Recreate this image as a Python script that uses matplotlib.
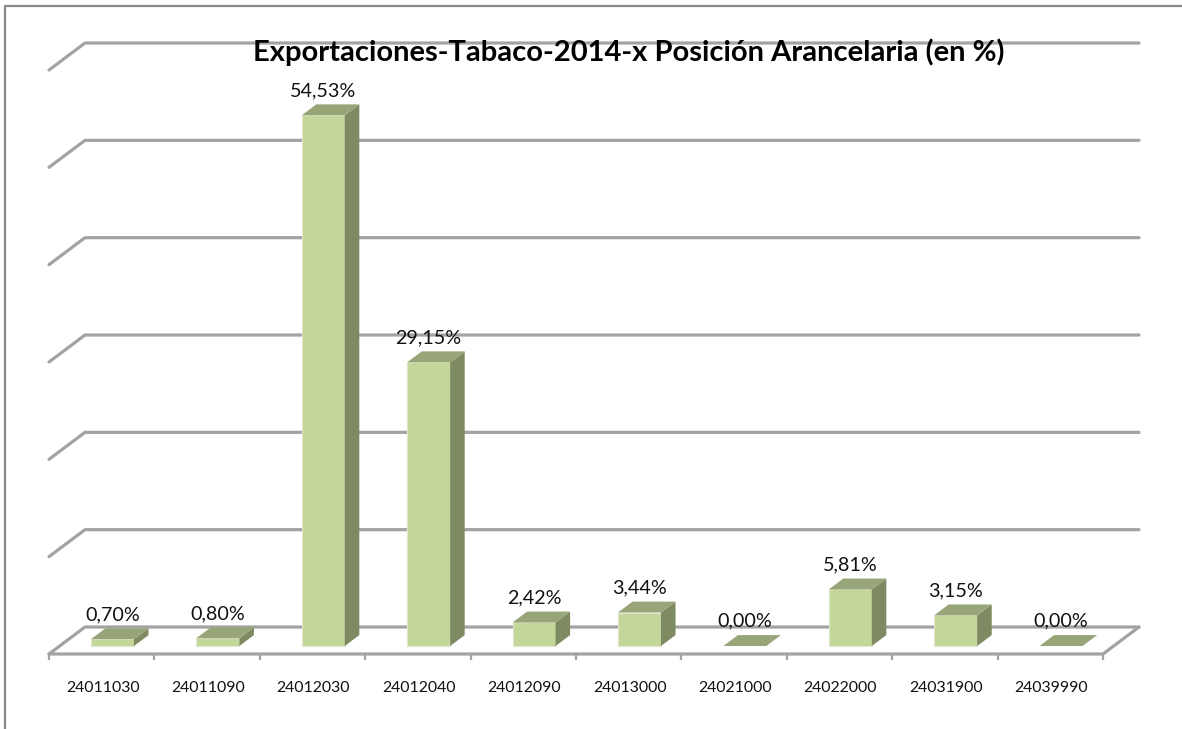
import matplotlib
matplotlib.use("Agg")
import matplotlib.pyplot as plt
from matplotlib.patches import Polygon
from matplotlib.lines import Line2D

categories = ["24011030", "24011090", "24012030", "24012040", "24012090",
              "24013000", "24021000", "24022000", "24031900", "24039990"]
values = [0.70, 0.80, 54.53, 29.15, 2.42, 3.44, 0.00, 5.81, 3.15, 0.00]
grid_levels = [0, 10, 20, 30, 40, 50, 60]
title = "Exportaciones-Tabaco-2014-x Posición Arancelaria (en %)"

W, H = 1182, 729
PX_X = 105.4       # px per category
PX_Y = 9.733       # px per percent
X0, Y0 = 49, 654   # px of the front floor origin
DEPTH_X, DEPTH_Y = 36, 27  # px of the full floor depth

plt.rcParams["font.family"] = ["Lato", "DejaVu Sans"]
fig = plt.figure(figsize=(W / 100, H / 100), dpi=100, facecolor="white")
ax = fig.add_axes([0, 0, 1, 1])
ax.set_xlim(-X0 / PX_X, (W - X0) / PX_X)
ax.set_ylim((Y0 - H) / PX_Y, Y0 / PX_Y)
ax.axis("off")

dxu = DEPTH_X / PX_X
dyu = DEPTH_Y / PX_Y

def proj(x, y, d):
    return (x + d * dxu, y + d * dyu)

GRID = "#a3a3a3"
FRAME = "#8a8a8a"
FRONT, TOP, SIDE = "#c4d79b", "#98a578", "#7e8a62"

n = len(categories)
for lev in grid_levels:
    pts = [proj(0, lev, 0), proj(0, lev, 1), proj(n, lev, 1)]
    ax.plot(*zip(*pts), color=GRID, lw=2.3, solid_joinstyle="round", solid_capstyle="round", zorder=1)
# floor: front and right edges
pts = [proj(0, 0, 0), proj(n, 0, 0), proj(n, 0, 1)]
ax.plot(*zip(*pts), color=GRID, lw=2.3, solid_joinstyle="round", solid_capstyle="round", zorder=1)

# ticks
tick_len = 5 / PX_Y
for i in range(n + 1):
    ax.plot([i, i], [0, -tick_len], color=GRID, lw=1.6, zorder=1)

# bars
d0, d1 = 0.296, 0.70
left, width = 0.297, 0.408
for i, v in enumerate(values):
    xl, xr = i + left, i + left + width
    front = [proj(xl, 0, d0), proj(xr, 0, d0), proj(xr, v, d0), proj(xl, v, d0)]
    top = [proj(xl, v, d0), proj(xr, v, d0), proj(xr, v, d1), proj(xl, v, d1)]
    side = [proj(xr, 0, d0), proj(xr, 0, d1), proj(xr, v, d1), proj(xr, v, d0)]
    if v > 0:
        ax.add_patch(Polygon(front, closed=True, fc=FRONT, ec="#dfe8cc", lw=0.8, zorder=3))
        ax.add_patch(Polygon(side, closed=True, fc=SIDE, ec="none", zorder=3))
    ax.add_patch(Polygon(top, closed=True, fc=TOP, ec="none", zorder=3))
    lx, ly = proj(i + left + width / 2, v, d1)
    ax.annotate(f"{v:.2f}%".replace(".", ","),
                xy=(lx - (d1 - d0) * dxu, ly), xytext=(0, 10), textcoords="offset points",
                ha="center", va="center", fontsize=14.2, color="#111111", zorder=5)
    ax.annotate(categories[i], xy=(i + 0.5, 0), xytext=(0.7, -24.7), textcoords="offset points",
                ha="center", va="center", fontsize=11.4, color="#111111", zorder=5)

# title
ax.text(629 / W, 1 - 52 / H, title, transform=ax.transAxes, ha="center", va="center",
        fontsize=21, fontweight="bold", color="black", zorder=6)

# chart frame
fig.add_artist(Line2D([5 / W, 5 / W, 1], [0, 1 - 6 / H, 1 - 6 / H], color=FRAME, lw=1.6))

fig.savefig("out.png", dpi=100, facecolor="white")
